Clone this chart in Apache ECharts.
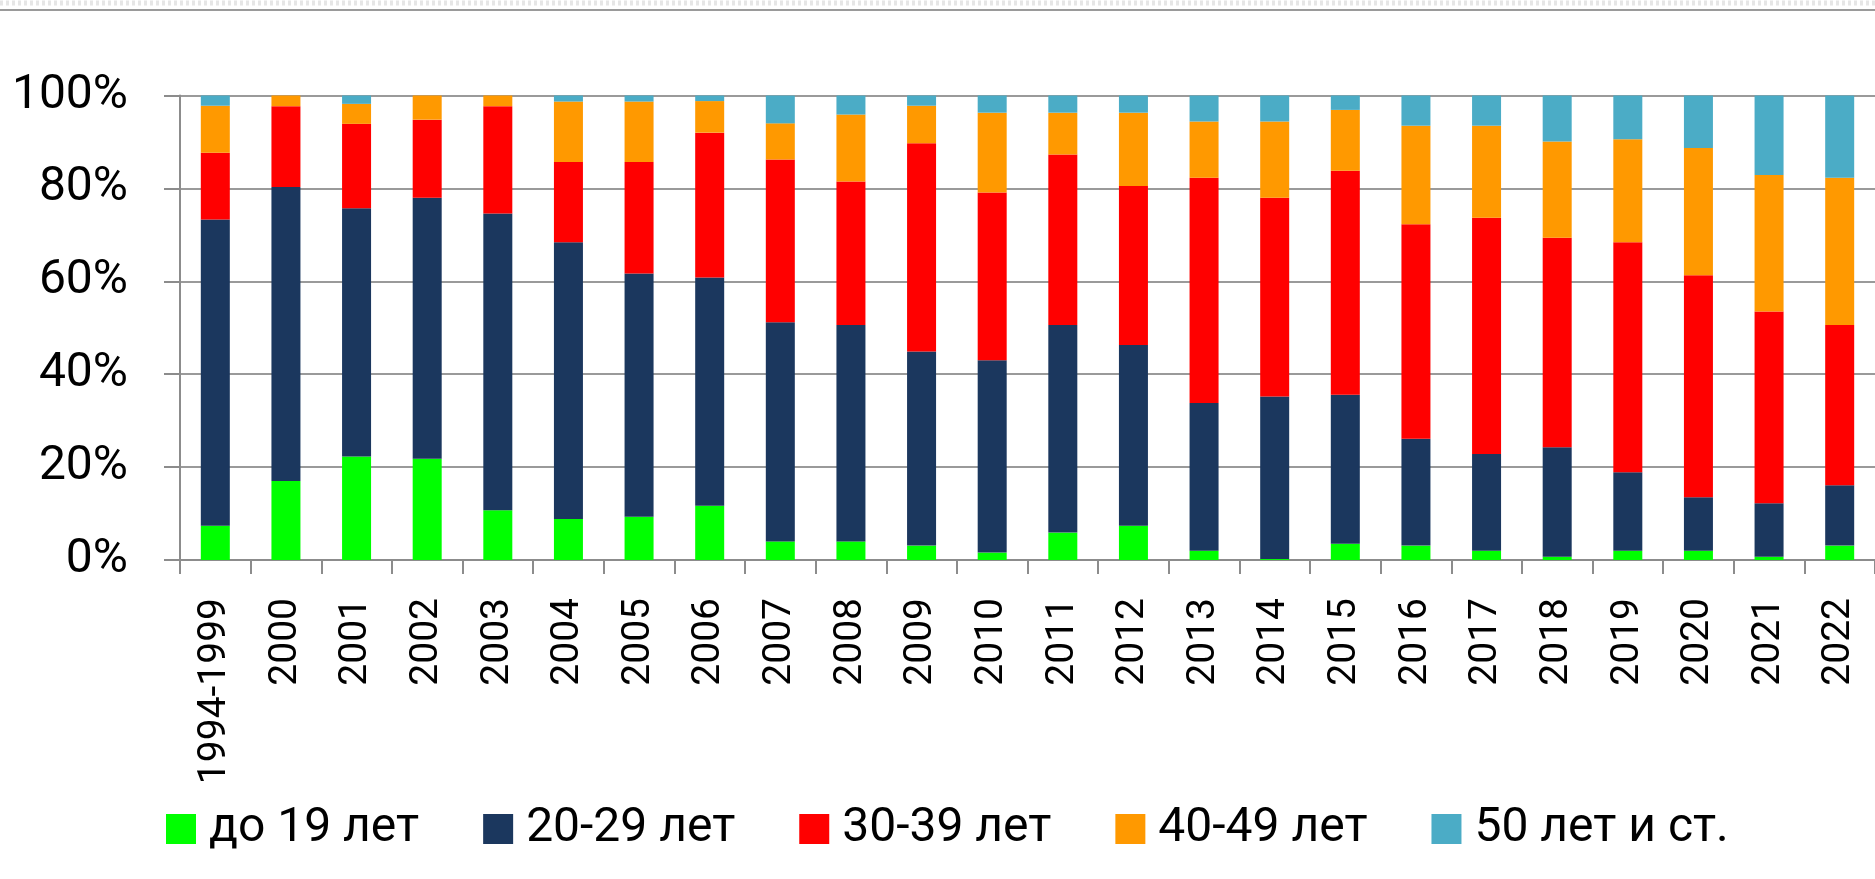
<!DOCTYPE html>
<html>
<head>
<meta charset="utf-8">
<script src="https://cdn.jsdelivr.net/npm/echarts@6/dist/echarts.min.js"></script>
<style>
  html, body { margin: 0; padding: 0; background: #fff; }
  #chart { width: 1875px; height: 879px; }
</style>
</head>
<body>
<div id="chart"></div>
<script>
// categories (years)
var years = ['1994-1999', '2000', '2001', '2002', '2003', '2004', '2005', '2006', '2007', '2008',
  '2009', '2010', '2011', '2012', '2013', '2014', '2015', '2016', '2017', '2018',
  '2019', '2020', '2021', '2022']

// share of each age group, %
var age19 = [7.4, 17.0, 22.3, 21.8, 10.7, 8.8, 9.3, 11.7, 4.0, 4.0,
  3.1, 1.6, 5.9, 7.4, 2.0, 0.2, 3.5, 3.1, 2.0, 0.7,
  2.0, 2.0, 0.7, 3.1]
var age20 = [65.9, 63.3, 53.4, 56.2, 63.9, 59.6, 52.4, 49.1, 47.2, 46.6,
  41.8, 41.4, 44.7, 38.9, 31.8, 35.0, 32.1, 23.0, 20.8, 23.6,
  16.9, 11.5, 11.5, 13.0]
var age30 = [14.4, 17.4, 18.2, 16.8, 23.1, 17.3, 24.0, 31.2, 35.0, 30.9,
  44.8, 36.1, 36.7, 34.2, 48.5, 42.8, 48.2, 46.2, 50.9, 45.1,
  49.5, 47.8, 41.3, 34.5]
var age40 = [10.1, 2.3, 4.3, 5.2, 2.3, 13.0, 13.0, 6.8, 7.8, 14.4,
  8.1, 17.2, 9.0, 15.8, 12.1, 16.4, 13.1, 21.2, 19.8, 20.7,
  22.2, 27.4, 29.4, 31.7]
var age50 = [2.2, 0, 1.8, 0, 0, 1.3, 1.3, 1.2, 6.0, 4.1,
  2.2, 3.7, 3.7, 3.7, 5.6, 5.6, 3.1, 6.5, 6.5, 9.9,
  9.4, 11.3, 17.1, 17.7]

var names = ['до 19 лет', '20-29 лет', '30-39 лет', '40-49 лет', '50 лет и ст.']
var colors = ['#00ff00', '#1b375e', '#ff0000', '#ff9900', '#4bacc6']
var values = [age19, age20, age30, age40, age50]

var chart = echarts.init(document.getElementById('chart'))

var series = names.map(function (name, i) {
  return {
    name: name,
    type: 'bar',
    stack: 'total',
    barWidth: 29,
    itemStyle: { color: colors[i] },
    data: values[i]
  }
})

chart.setOption({
  animation: false,
  color: colors,
  textStyle: { fontFamily: 'Roboto' },
  grid: { left: 180, right: -7, top: 95.5, bottom: 319 },
  graphic: [
    {
      type: 'line',
      shape: { x1: 0, y1: 3, x2: 1875, y2: 3 },
      style: { stroke: '#e6e6e6', lineWidth: 5, lineDash: [3, 3] }
    },
    {
      type: 'line',
      shape: { x1: 0, y1: 10, x2: 1875, y2: 10 },
      style: { stroke: '#9a9a9a', lineWidth: 2 }
    }
  ],
  legend: {
    left: 161,
    top: 800,
    itemWidth: 30,
    itemHeight: 30,
    itemGap: 64,
    icon: 'rect',
    textStyle: { fontSize: 48, color: '#000', fontFamily: 'Roboto', padding: [0, 0, 0, 8] },
    data: names
  },
  xAxis: {
    type: 'category',
    data: years,
    boundaryGap: true,
    axisLine: { lineStyle: { color: '#8c8c8c', width: 2 } },
    axisTick: { show: true, interval: 0, length: 14, lineStyle: { color: '#8c8c8c', width: 2 } },
    axisLabel: {
      interval: 0,
      rotate: 90,
      margin: 38,
      fontSize: 39,
      color: '#000',
      fontFamily: 'Roboto'
    }
  },
  yAxis: {
    type: 'value',
    min: 0,
    max: 100,
    interval: 20,
    axisLine: { show: true, lineStyle: { color: '#8c8c8c', width: 2 } },
    axisTick: { show: true, length: 16, lineStyle: { color: '#8c8c8c', width: 2 } },
    splitLine: { lineStyle: { color: '#9a9a9a', width: 2 } },
    axisLabel: {
      formatter: '{value}%',
      margin: 52,
      fontSize: 48,
      color: '#000',
      fontFamily: 'Roboto'
    }
  },
  series: series
})
</script>
</body>
</html>
